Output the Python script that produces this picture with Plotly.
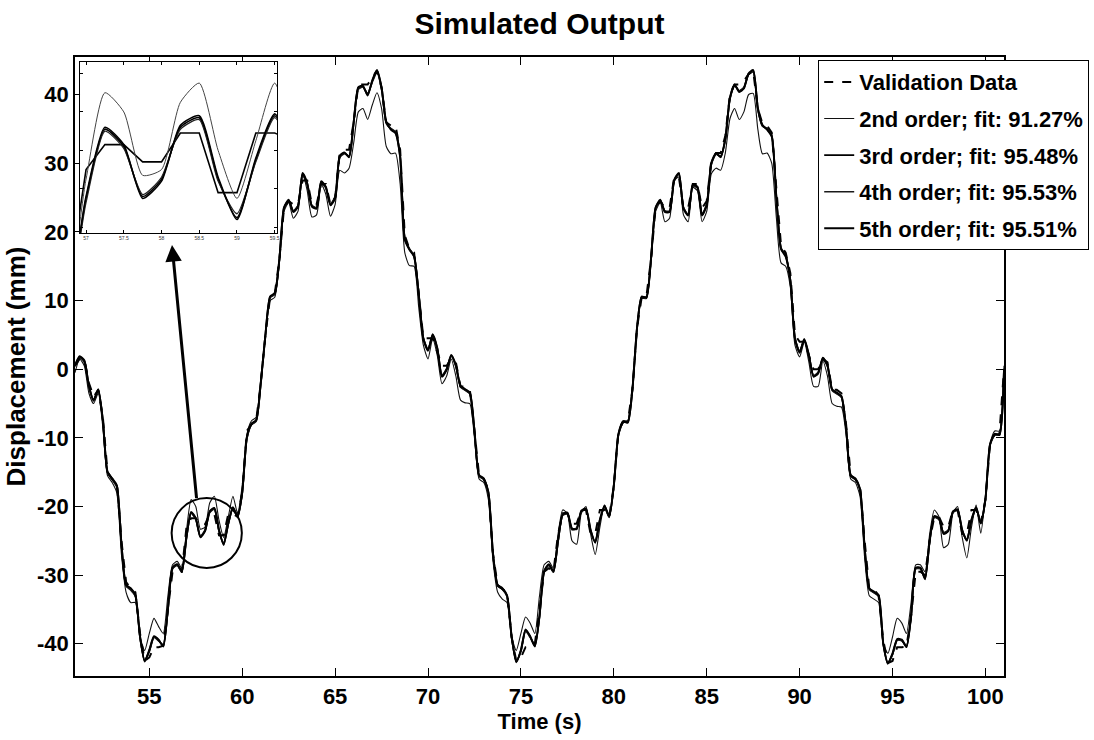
import plotly.graph_objects as go

# ---------------- data (time grid 51..101 s, step 0.25 s) ----------------
time_s = [51.0 + 0.25 * i for i in range(201)]

validation = [
    0.5, 1.5, 1.5, -2, -4, -3, -7, -15, -16, -16.5, -25, -31, -32, -32.5, -38.5,
    -42.5, -42, -40.5, -40.5, -40.3, -35, -29.5, -29.5, -29.5, -23,
    -21.7, -21.7, -22.6, -22.6, -21.1, -21.1, -24.2, -24.2, -21.1, -21.1,
    -21.5, -18, -9, -8, -7.5, -2, 5, 10.5, 11, 16,
    23.5, 24.5, 24, 24, 27.5, 27.5, 24, 24, 27, 27,
    24, 25, 31.5, 32, 32, 36, 41.5, 41.5, 41.5, 42.5,
    43.5, 41, 36, 35.5, 35.5, 32, 19.5, 17.5, 17, 11,
    4.5, 4.5, 4.5, 2.5, 0.5, 0.5, 1.5, 1, -2.5, -2.5,
    -3, -9, -15.5, -16, -17.5, -27, -31.5, -32, -32.5, -39,
    -42.5, -42, -40.5, -40.5, -40, -35, -29.5, -29, -29.5, -24,
    -21, -21, -22.5, -22.5, -20.5, -20.5, -24, -24, -20.5, -20.5,
    -21.5, -17, -9, -7.7, -7.7, -3, 6, 10.5, 10.5, 16,
    23.5, 24.5, 23.5, 23.5, 28, 28, 23.5, 23.5, 27, 27,
    23.5, 24.5, 30.5, 31.5, 31.5, 34, 40, 41.5, 41.5, 42,
    43, 43.5, 38, 35.8, 35.5, 34.5, 26, 18, 17, 14,
    5, 4, 4, 2, 0, 0, 1.5, 1, -3, -3,
    -3.5, -8, -15.5, -16, -17, -25, -32, -32, -33, -39.5,
    -42.8, -42.5, -40.5, -40.5, -40.4, -36, -29.5, -29.5, -30, -25,
    -21.5, -21.5, -23, -23, -20.5, -20.5, -24, -24, -20.5, -20.5,
    -22.4, -19, -11, -9.5, -9.5, 0,
]

order2 = [
    -0.5, 1.5, 0.5, -3.5, -5, -3.5, -8.5, -15.5, -16.5, -18, -27, -32.5, -34, -34, -39,
    -41, -38.5, -36.3, -37.5, -38.5, -33, -28.5, -28, -29, -23.5,
    -19, -20, -23.3, -23, -19.5, -18.5, -22, -24.5, -21.5, -18.5,
    -21, -17, -9.5, -7.5, -7, -1.5, 5, 10, 10.5, 15.5,
    23, 24.3, 22, 23, 28.5, 26, 22.2, 22.5, 27, 25.5,
    22.3, 24, 29, 28.6, 29.3, 33, 37.5, 38, 36.4, 38.5,
    40.3, 38, 32.5, 31.4, 31.5, 27, 17, 15.1, 15, 9,
    3.5, 1.5, 4.5, 2, -2.1, -1, 1.5, -1, -4.5, -4.9,
    -5, -10, -16, -16.5, -19, -28, -32.5, -33.5, -34, -39,
    -41, -38.5, -36.1, -37, -38.5, -33, -28.5, -28, -29, -24,
    -20.5, -21, -25, -25.5, -21, -20, -24, -27, -23, -19.8,
    -21.5, -16.5, -9.5, -7.5, -7.5, -2.5, 6, 10.3, 10.3, 15.5,
    23, 24.3, 21.5, 22, 27.5, 28, 22.5, 21.5, 26.5, 26,
    21.5, 23, 28.5, 29.3, 29, 31.5, 36.5, 38, 36.4, 37.5,
    40, 40.2, 35, 31.4, 31.5, 30, 22, 15.5, 15, 12,
    3.5, 1.8, 4, 1, -2.5, -2.5, 1.2, -1, -5, -5.4,
    -5.5, -9.5, -16, -16.5, -18.5, -27.5, -33, -33.5, -34, -40,
    -41.4, -39, -36.3, -37, -38.5, -34, -28.5, -28.5, -29.5, -24,
    -20.5, -21.5, -26, -25.5, -21, -20, -24.5, -27.5, -23, -19.8,
    -23.9, -18.5, -11, -9, -9, 0.5,
]

order3 = [
    0.5, 1.8, 1.2, -2.5, -4.5, -3, -7.5, -15, -16, -17, -25.5, -31.5, -32, -33, -39,
    -42.5, -41, -39, -39.5, -40.3, -35, -29, -28.5, -29.5, -24.5,
    -20.9, -21.8, -24.4, -23.5, -20.8, -20.3, -23.5, -25.5, -22.5, -20.2,
    -21.5, -18, -10, -8, -7.5, -2, 5, 10.5, 11, 16,
    23.5, 24.6, 23, 23.8, 28.5, 27, 23.8, 23.5, 27.3, 26.5,
    24, 25, 31, 31.5, 31, 36, 41, 41.2, 40, 42,
    43.5, 41, 36, 35, 34.5, 31, 19, 17.5, 16.5, 11,
    4.5, 2.8, 5, 3, -1, 0, 2, 0.5, -2.5, -3,
    -3.5, -9, -15.5, -16, -18, -27, -31.5, -32, -33, -39,
    -42.6, -41, -38, -39, -40.3, -36, -29.5, -28.5, -29.5, -25,
    -21.2, -21, -23.3, -23.2, -20.7, -20.4, -23.5, -25.2, -22, -20,
    -21.5, -17, -9.5, -7.7, -7.7, -3, 6, 10.5, 10.5, 16,
    23.5, 24.6, 23, 23, 27.5, 28.5, 23.5, 22.5, 26.8, 26.5,
    22.5, 24, 30, 31.4, 31, 33.5, 39.5, 41.4, 40.5, 41,
    43, 43.5, 38, 35.5, 35, 34, 25, 17.6, 16.5, 13,
    4.5, 2.5, 4.3, 2, -1, -0.5, 1.6, 0.5, -3, -3.5,
    -4, -8.5, -15.5, -16, -17.5, -26, -32, -32.5, -33, -40,
    -42.8, -41.5, -39.4, -39.5, -40.4, -36, -29, -29, -30.5, -25,
    -21.5, -21.8, -23.9, -23.5, -20.8, -20.5, -23.5, -24.9, -22, -20.2,
    -22.4, -19, -11, -9.5, -9.5, 0,
]

order4 = [
    0.4, 1.7, 1.0, -2.7, -4.4, -3.1, -7.7, -15.1, -16.1, -17.2, -25.8, -31.6, -32.2, -33.1, -39.3,
    -42.4, -41.2, -39.1, -39.6, -40.1, -35.3, -29.1, -28.6, -29.6, -24.7,
    -21.0, -21.9, -24.3, -23.4, -20.9, -20.4, -23.6, -25.3, -22.6, -20.3,
    -21.6, -18.2, -10.2, -8.1, -7.6, -2.2, 4.8, 10.4, 10.9, 15.8,
    23.4, 24.5, 23.1, 23.9, 28.3, 26.9, 23.9, 23.6, 27.1, 26.4,
    24.1, 25.2, 30.8, 31.4, 31.1, 35.8, 40.8, 41.1, 40.2, 41.8,
    43.2, 40.8, 35.8, 35.1, 34.6, 31.3, 19.3, 17.6, 16.6, 11.2,
    4.6, 2.9, 4.9, 2.9, -0.8, 0.1, 1.9, 0.4, -2.6, -3.1,
    -3.6, -9.2, -15.6, -16.1, -18.2, -27.3, -31.6, -32.1, -33.1, -39.3,
    -42.5, -41.1, -38.2, -39.1, -40.2, -36.2, -29.6, -28.6, -29.6, -25.2,
    -21.3, -21.1, -23.4, -23.1, -20.8, -20.5, -23.6, -25.1, -22.1, -20.1,
    -21.6, -17.2, -9.6, -7.8, -7.6, -3.1, 5.8, 10.4, 10.6, 15.8,
    23.4, 24.5, 23.1, 23.1, 27.4, 28.4, 23.6, 22.6, 26.7, 26.4,
    22.6, 24.1, 29.8, 31.3, 31.1, 33.4, 39.3, 41.3, 40.6, 41.1,
    42.9, 43.3, 37.8, 35.4, 35.1, 34.1, 25.2, 17.7, 16.6, 13.1,
    4.6, 2.6, 4.2, 1.9, -0.9, -0.4, 1.5, 0.4, -3.1, -3.6,
    -4.1, -8.7, -15.6, -16.1, -17.6, -26.2, -32.1, -32.6, -33.1, -40.1,
    -42.7, -41.6, -39.5, -39.6, -40.3, -36.1, -29.1, -29.1, -30.4, -25.2,
    -21.6, -21.9, -23.8, -23.4, -20.9, -20.6, -23.6, -24.8, -22.1, -20.3,
    -22.3, -19.1, -11.1, -9.6, -9.4, 0.1,
]

order5 = [
    0.6, 1.9, 1.3, -2.4, -4.6, -2.9, -7.4, -14.9, -15.9, -16.9, -25.4, -31.4, -31.9, -32.9, -38.9,
    -42.6, -40.9, -38.9, -39.4, -40.4, -34.9, -28.9, -28.4, -29.4, -24.4,
    -20.8, -21.7, -24.5, -23.6, -20.7, -20.2, -23.4, -25.6, -22.4, -20.1,
    -21.4, -17.9, -9.9, -7.9, -7.4, -1.9, 5.1, 10.6, 11.1, 16.1,
    23.6, 24.7, 22.9, 23.7, 28.6, 27.1, 23.7, 23.4, 27.4, 26.6,
    23.9, 24.9, 31.1, 31.6, 30.9, 36.1, 41.1, 41.3, 39.9, 42.1,
    43.6, 41.1, 36.1, 34.9, 34.4, 30.9, 18.9, 17.4, 16.4, 10.9,
    4.4, 2.7, 5.1, 3.1, -1.1, -0.1, 2.1, 0.6, -2.4, -2.9,
    -3.4, -8.9, -15.4, -15.9, -17.9, -26.9, -31.4, -31.9, -32.9, -38.9,
    -42.7, -40.9, -37.9, -38.9, -40.4, -35.9, -29.4, -28.4, -29.4, -24.9,
    -21.1, -20.9, -23.2, -23.3, -20.6, -20.3, -23.4, -25.3, -21.9, -19.9,
    -21.4, -16.9, -9.4, -7.6, -7.8, -2.9, 6.1, 10.6, 10.4, 16.1,
    23.6, 24.7, 22.9, 22.9, 27.6, 28.6, 23.4, 22.4, 26.9, 26.6,
    22.4, 23.9, 30.1, 31.5, 30.9, 33.6, 39.6, 41.5, 40.4, 40.9,
    43.1, 43.6, 38.1, 35.6, 34.9, 33.9, 24.9, 17.5, 16.4, 12.9,
    4.4, 2.4, 4.4, 2.1, -1.1, -0.6, 1.7, 0.6, -2.9, -3.4,
    -3.9, -8.4, -15.4, -15.9, -17.4, -25.9, -31.9, -32.4, -32.9, -39.9,
    -42.9, -41.4, -39.3, -39.4, -40.5, -35.9, -28.9, -28.9, -30.6, -24.9,
    -21.4, -21.7, -24.0, -23.6, -20.7, -20.4, -23.4, -25.0, -21.9, -20.1,
    -22.5, -18.9, -10.9, -9.4, -9.6, -0.1,
]

series_names = [
    "Validation Data",
    "2nd order; fit: 91.27%",
    "3rd order; fit: 95.48%",
    "4th order; fit: 95.53%",
    "5th order; fit: 95.51%",
]
x_ticks = [55, 60, 65, 70, 75, 80, 85, 90, 95, 100]
y_ticks = [-40, -30, -20, -10, 0, 10, 20, 30, 40]
y_tick_text = ["-40", "-30", "-20", "-10", "0", "10", "20", "30", "40"]
inset_x_ticks = [57, 57.5, 58, 58.5, 59, 59.5]

# ---------------- styles ----------------
FONT = "Liberation Sans, Arial, Helvetica, sans-serif"
series_values = [validation, order2, order3, order4, order5]
styles = [
    dict(color="black", width=2.0, dash="dash", shape="linear"),
    dict(color="#111111", width=1.1, dash="solid", shape="spline"),
    dict(color="black", width=1.9, dash="solid", shape="spline"),
    dict(color="#1a1a1a", width=1.4, dash="solid", shape="spline"),
    dict(color="black", width=1.9, dash="solid", shape="spline"),
]
draw_order = [1, 2, 3, 4, 0]   # validation drawn last (on top)

fig = go.Figure()

for i in draw_order:
    name, vals, st = series_names[i], series_values[i], styles[i]
    fig.add_trace(go.Scatter(
        x=time_s, y=vals, mode="lines", name=name,
        legendgroup=name, legendrank=i + 1,
        line=dict(color=st["color"], width=st["width"], dash=st["dash"],
                  shape=st["shape"], smoothing=0.6),
        xaxis="x", yaxis="y",
    ))

# inset copies of the same data
inset_styles = [
    dict(color="black", width=1.6, shape="linear"),
    dict(color="#444444", width=1.0, shape="spline"),
    dict(color="black", width=1.6, shape="spline"),
    dict(color="#222222", width=1.3, shape="spline"),
    dict(color="black", width=1.6, shape="spline"),
]
for name, vals, st in zip(series_names, series_values, inset_styles):
    fig.add_trace(go.Scatter(
        x=time_s, y=vals, mode="lines", name=name, showlegend=False,
        line=dict(color=st["color"], width=st["width"], shape=st["shape"], smoothing=0.6),
        xaxis="x2", yaxis="y2", hoverinfo="skip",
    ))

axis_common = dict(
    showline=True, linecolor="black", linewidth=1.5, mirror="ticks",
    ticks="inside", ticklen=8, tickwidth=1.2, tickcolor="black",
    showgrid=False, zeroline=False,
    tickfont=dict(family=FONT, size=22, color="black", weight="bold"),
)

fig.update_layout(
    width=1094, height=740,
    margin=dict(l=75, r=90, t=57, b=64, autoexpand=False),
    paper_bgcolor="white", plot_bgcolor="white",
    title=dict(text="Simulated Output", x=0.5, xref="paper", xanchor="center",
               y=1 - 23 / 740, yref="container", yanchor="middle",
               font=dict(family=FONT, size=30, color="black", weight="bold")),
    xaxis=dict(range=[51, 101], tickvals=x_ticks, **axis_common,
               title=dict(text="Time (s)", standoff=2,
                          font=dict(family=FONT, size=22, color="black", weight="bold"))),
    yaxis=dict(range=[-44.7, 45.5], tickvals=y_ticks, ticktext=y_tick_text, **axis_common,
               title=dict(text="Displacement (mm)", standoff=4,
                          font=dict(family=FONT, size=26, color="black", weight="bold"))),
    xaxis2=dict(domain=[0.0054, 0.2174], anchor="y2", range=[56.92, 59.53],
                tickvals=inset_x_ticks, showline=True, linecolor="black", linewidth=1,
                mirror="ticks", ticks="inside", ticklen=3, tickcolor="black",
                showgrid=False, zeroline=False,
                tickfont=dict(family=FONT, size=5, color="#333333")),
    yaxis2=dict(domain=[0.7157, 0.992], anchor="x2", range=[-26.3, -17.4],
                showline=True, linecolor="black", linewidth=1, mirror="ticks",
                ticks="inside", ticklen=3, tickcolor="black", showticklabels=False,
                showgrid=False, zeroline=False),
    legend=dict(x=0.80, y=0.995, xanchor="left", yanchor="top",
                bgcolor="white", bordercolor="black", borderwidth=1,
                traceorder="grouped", tracegroupgap=5,
                font=dict(family=FONT, size=22, color="black", weight="bold")),
    showlegend=True,
)

# circle highlighting the zoomed region and arrow to the inset
fig.add_shape(type="circle", xref="x", yref="y", x0=56.2, x1=59.98, y0=-28.96, y1=-18.78,
              line=dict(color="black", width=2))
fig.add_annotation(x=56.22, y=18.1, ax=57.55, ay=-19.0, xref="x", yref="y",
                   axref="x", ayref="y", text="", showarrow=True,
                   arrowhead=2, arrowsize=1.1, arrowwidth=3, arrowcolor="black")

fig.write_html("out.html")
